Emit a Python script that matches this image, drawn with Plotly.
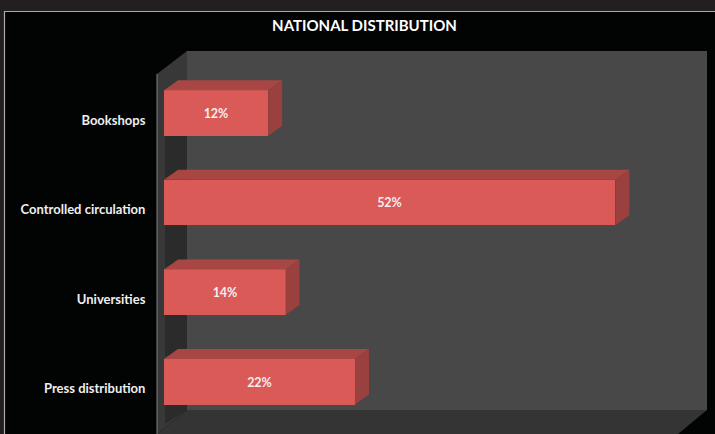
import plotly.graph_objects as go

categories = ["Bookshops", "Controlled circulation", "Universities", "Press distribution"]
values = [12, 52, 14, 22]
value_labels = ["12%", "52%", "14%", "22%"]
title_text = "NATIONAL DISTRIBUTION"

W, H = 715, 434
L, R, T, B = 164, 707, 51, 434      # plot area in pixels
PX_PER_UNIT = 8.68                  # px per percent
PX_PER_CAT = 89.6
BAR_W = 0.508
DEPTH_X = 14 / PX_PER_UNIT
DEPTH_Y = 10 / PX_PER_CAT
FIRST_CENTRE_PX = 113
LABEL_SHIFT = 7 / PX_PER_CAT

FRONT, TOP, SIDE = "#d95a57", "#a84644", "#9a403f"


def px(x):
    return (x - L) / (R - L)


def py(y):
    return (B - y) / (B - T)


def poly(points, fill, line=None):
    path = "M " + " L ".join(f"{px(x)} {py(y)}" for x, y in points) + " Z"
    return dict(type="path", xref="paper", yref="paper", path=path, fillcolor=fill,
                line=dict(width=0) if line is None else line, layer="below")


positions = list(range(len(categories)))
fig = go.Figure()

# side and top faces of each bar, derived from its value
for pos, val in zip(positions, values):
    y0, y1 = pos - BAR_W / 2, pos + BAR_W / 2
    fig.add_trace(go.Scatter(
        x=[0, val, val + DEPTH_X, DEPTH_X, 0], y=[y0, y0, y0 - DEPTH_Y, y0 - DEPTH_Y, y0],
        fill="toself", fillcolor=TOP, mode="lines", line=dict(width=0),
        hoverinfo="skip", showlegend=False))
    fig.add_trace(go.Scatter(
        x=[val, val + DEPTH_X, val + DEPTH_X, val, val],
        y=[y0, y0 - DEPTH_Y, y1 - DEPTH_Y, y1, y0],
        fill="toself", fillcolor=SIDE, mode="lines", line=dict(width=0),
        hoverinfo="skip", showlegend=False))

fig.add_trace(go.Bar(
    x=values, y=positions, orientation="h", width=BAR_W,
    marker=dict(color=FRONT, line=dict(width=0)),
    text=value_labels, textposition="inside", insidetextanchor="middle", textangle=0,
    textfont=dict(family="Lato", size=12.5, color="#f4eeee", weight="bold"),
    showlegend=False))

top_val = (T - FIRST_CENTRE_PX) / PX_PER_CAT
bot_val = (B - FIRST_CENTRE_PX) / PX_PER_CAT

shapes = [
    # chart frame
    dict(type="rect", xref="paper", yref="paper", x0=px(4.5), x1=px(W + 4), y0=py(H + 4), y1=py(11.5),
         fillcolor="#020303", line=dict(color="#a9a9a9", width=1.2), layer="below"),
    # back wall, side wall, floor
    poly([(187, 51), (707, 51), (707, 410), (187, 410)], "#484848"),
    poly([(157, 74), (187, 51), (187, 410), (157, 434)], "#383838"),
    poly([(187, 410), (707, 410), (678, 434), (157, 434)], "#343434"),
    dict(type="line", xref="paper", yref="paper", x0=px(157), x1=px(157), y0=py(74), y1=py(434),
         line=dict(color="#808080", width=1), layer="below"),
]
# darker band the bars leave on the side wall
for pos in positions:
    bottom_px = FIRST_CENTRE_PX + (pos + BAR_W / 2) * PX_PER_CAT
    shapes.append(poly([(165, bottom_px), (187, bottom_px), (187, min(bottom_px + 34, 410)),
                        (165, min(bottom_px + 42, 424))], "#2b2b2b"))

fig.update_layout(
    width=W, height=H, margin=dict(l=L, r=W - R, t=T, b=H - B, pad=0),
    paper_bgcolor="#231f20", plot_bgcolor="rgba(0,0,0,0)",
    shapes=shapes,
    bargap=0,
    title=dict(text=title_text, x=364.5 / W, xanchor="center", y=1 - 26 / H, yanchor="middle",
               font=dict(family="Lato", size=15, color="#ffffff", weight="bold")),
    xaxis=dict(range=[0, (R - L) / PX_PER_UNIT], showgrid=False, zeroline=False,
               showticklabels=False, ticks="", showline=False),
    yaxis=dict(range=[bot_val, top_val], showgrid=False, zeroline=False, showline=False,
               tickmode="array", tickvals=[p + LABEL_SHIFT for p in positions], ticktext=categories,
               ticks="outside", ticklen=15, tickcolor="rgba(0,0,0,0)",
               tickfont=dict(family="Lato", size=13, color="#efefef", weight="bold")),
)

fig.write_html("out.html", config={"displayModeBar": False},
               post_script="document.body.style.margin='0';document.body.style.background='#231f20';")
